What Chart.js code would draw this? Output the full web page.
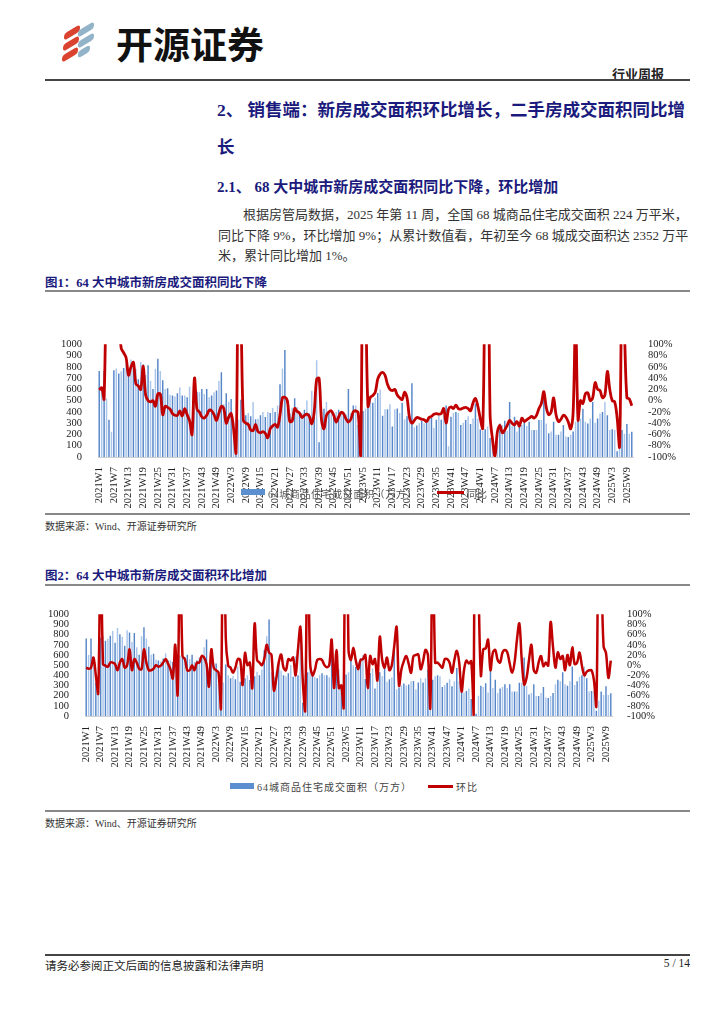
<!DOCTYPE html>
<html>
<head>
<meta charset="utf-8">
<script src="https://cdn.jsdelivr.net/npm/chart.js@4.4.1/dist/chart.umd.min.js"></script>
<style>
  body { margin: 0; background: #fff; }
  #page { position: relative; width: 724px; height: 1024px; overflow: hidden;
    font-family: "Liberation Serif", "Noto Sans CJK SC", serif; color: #222; }
  .abs { position: absolute; white-space: nowrap; }
  .rule { position: absolute; left: 45px; width: 645px; }
  .navy { color: #1b1b7d; font-weight: bold; }
  .stripe { position: absolute; width: 16px; height: 7px; transform: skewY(-30deg); border-radius: 3px; }
  canvas { position: absolute; }
</style>
</head>
<body>
<div id="page">
  <!-- logo -->
  <div class="stripe" style="left:64px;top:29px;background:#d9432f"></div>
  <div class="stripe" style="left:63px;top:40px;background:#d9432f"></div>
  <div class="stripe" style="left:62px;top:51px;background:#d9432f"></div>
  <div class="stripe" style="left:78px;top:26px;background:#93b3c9"></div>
  <div class="stripe" style="left:78px;top:37px;background:#93b3c9"></div>
  <div class="stripe" style="left:78px;top:48px;width:12px;background:#93b3c9"></div>
  <div class="abs" style="left:116px;top:16px;font:bold 37px 'Noto Sans CJK SC';color:#111">开源证券</div>
  <div class="abs" style="left:612px;top:64px;font:bold 13px 'Noto Sans CJK SC';color:#222">行业周报</div>
  <div class="rule" style="top:79px;height:2px;background:#444"></div>

  <div class="abs navy" style="left:217px;top:96px;font-size:17.5px">2、 销售端：新房成交面积环比增长，二手房成交面积同比增</div>
  <div class="abs navy" style="left:217px;top:133px;font-size:17.5px">长</div>
  <div class="abs navy" style="left:217px;top:175px;font-size:15px">2.1、 68 大中城市新房成交面积同比下降，环比增加</div>
  <div class="abs" style="left:243px;top:204px;font-size:13px;color:#333">根据房管局数据，2025 年第 11 周，全国 68 城商品住宅成交面积 224 万平米，</div>
  <div class="abs" style="left:218px;top:225px;font-size:13px;color:#333">同比下降 9%，环比增加 9%；从累计数值看，年初至今 68 城成交面积达 2352 万平</div>
  <div class="abs" style="left:218px;top:245px;font-size:13px;color:#333">米，累计同比增加 1%。</div>

  <div class="abs navy" style="left:45px;top:272px;font-size:12.5px">图1：64 大中城市新房成交面积同比下降</div>
  <div class="rule" style="top:290px;height:1.5px;background:#888"></div>
  <canvas id="c1" width="650" height="180" style="left:40px;top:330px"></canvas>
  <div class="abs" style="left:241px;top:489px;width:24px;height:6px;background:#5b8fd0"></div>
  <div class="abs" style="left:268px;top:486px;font-size:10px;color:#555;letter-spacing:0.6px">64城商品住宅成交面积（万方）</div>
  <div class="abs" style="left:437px;top:491px;width:27px;height:3px;background:#c00000"></div>
  <div class="abs" style="left:467px;top:486px;font-size:10px;color:#555">同比</div>
  <div class="rule" style="top:513px;height:1.5px;background:#888"></div>
  <div class="abs" style="left:45px;top:518px;font-size:10px;color:#333">数据来源：Wind、开源证券研究所</div>

  <div class="abs navy" style="left:45px;top:565px;font-size:12.5px">图2：64 大中城市新房成交面积环比增加</div>
  <div class="rule" style="top:584px;height:1.5px;background:#888"></div>
  <canvas id="c2" width="660" height="170" style="left:30px;top:600px"></canvas>
  <div class="abs" style="left:230px;top:783px;width:24px;height:6px;background:#5b8fd0"></div>
  <div class="abs" style="left:257px;top:779px;font-size:10px;color:#444;letter-spacing:1px">64城商品住宅成交面积（万方）</div>
  <div class="abs" style="left:428px;top:785px;width:25px;height:3px;background:#c00000"></div>
  <div class="abs" style="left:456px;top:779px;font-size:10px;color:#444;letter-spacing:1px">环比</div>
  <div class="rule" style="top:810px;height:1.5px;background:#888"></div>
  <div class="abs" style="left:45px;top:815px;font-size:10px;color:#333">数据来源：Wind、开源证券研究所</div>

  <div class="rule" style="top:954px;height:2px;background:#444"></div>
  <div class="abs" style="left:45px;top:957px;font-size:11.5px;color:#222">请务必参阅正文后面的信息披露和法律声明</div>
  <div class="abs" style="left:650px;top:957px;width:40px;text-align:right;font-size:11.5px;color:#222">5 / 14</div>
</div>

<script>
// weekly categories 2021W1 .. 2025W11
const years = [2021, 2022, 2023, 2024, 2025]
const weeksInYear = [52, 52, 52, 52, 11]
const weekLabels = []
years.forEach((y, k) => {
  for (let w = 1; w <= weeksInYear[k]; w++) weekLabels.push(y + 'W' + w)
})

// 64城商品住宅成交面积（万方）
const area = [
  762, 600, 762, 520, 330, 225, 770, 785, 740, 760,
  790, 835, 720, 865, 805, 780, 690, 843, 820, 727,
  815, 675, 603, 783, 872, 762, 680, 603, 611, 553,
  545, 536, 565, 617, 545, 545, 530, 623, 270, 594,
  580, 575, 603, 560, 603, 530, 545, 575, 590, 675,
  753, 470, 565, 490, 515, 313, 67, 330, 507, 400,
  371, 391, 362, 487, 336, 340, 370, 400, 355, 400,
  391, 435, 400, 458, 646, 785, 950, 429, 386, 438,
  522, 444, 400, 391, 420, 501, 386, 588, 400, 858,
  130, 400, 429, 487, 409, 386, 371, 400, 420, 400,
  400, 380, 603, 391, 458, 458, 284, 60, 408, 430,
  545, 500, 481, 525, 568, 600, 365, 423, 423, 467,
  270, 423, 430, 391, 481, 336, 362, 378, 655, 264,
  280, 300, 320, 300, 310, 342, 345, 260, 330, 370,
  330, 371, 458, 96, 357, 391, 400, 391, 284, 304,
  328, 362, 293, 342, 472, 342, 246, 232, 246, 270,
  168, 153, 23, 200, 298, 284, 322, 232, 487, 275,
  357, 226, 270, 284, 313, 275, 313, 240, 240, 240,
  328, 328, 574, 298, 211, 226, 313, 197, 197, 226,
  284, 183, 177, 197, 226, 313, 357, 342, 429, 313,
  298, 342, 487, 304, 342, 386, 400, 487, 371, 240,
  246, 240, 52, 150, 240, 206, 293, 206, 224
]

// 同比 (%)
const yoy = [
  19, 23, 3, 300, 700, 900, 600, 400, 150, 93,
  85, 76, 45, 60, 68, 30, 26, 20, 61, 10,
  0, -2, 0, -10, 12, 12, -25, -10, -12, -15,
  -23, -26, -26, -18, -27, -14, -25, -36, -60, 40,
  -15, -20, -29, -31, -26, -17, -18, -25, -35, -22,
  -10, -14, -40, -29, -23, -50, -93, 250, 150, -35,
  -40, -42, -52, -53, -42, -55, -57, -55, -58, -66,
  -50, -45, -42, -47, -25, 5, 6, 0, -37, -36,
  -14, -19, -22, -30, -26, -24, -28, -41, -20, 38,
  40, -34, -50, -26, -20, -18, -26, -38, -29, -21,
  -23, -32, -38, -33, -20, -18, -22, -98, 300, 200,
  -10, 6, 9, 15, 38, 47, 50, 45, 29, 20,
  18, 20, 10, 5, 2, 15, 5, -30, -40, -35,
  -30, -31, -33, -34, -37, -30, -28, -24, -23, -24,
  -23, -14, -40, -15, -11, -14, -8, -14, -15, -13,
  -12, -14, -18, -4, 4, -10, -32, -49, 250, 400,
  -25, -69, -98, -55, -44, -57, -52, -44, -35, -40,
  -43, -37, -45, -31, -37, -34, -31, -28, -31, -26,
  -14, -5, 16, -12, -25, -20, 5, -25, -37, -33,
  -26, -29, -38, -50, -20, 150, -34, 0, -5, 12,
  14, 0, 5, 32, 20, 18, 5, 10, 52, 20,
  0, -2, -30, -81, 200, 120, 5, 3, -9
]

// 环比 (%)
const wow = [
  -5, -7, -5, 15, -20, -55, 250, 2, -1, -3,
  5, 5, 2, -10, 5, 12, -5, 0, 31, -10,
  12, 5, -7, -8, 31, 5, -10, -10, -7, 0,
  -3, -1, 5, 12, 3, -8, -26, 40, -58, 250,
  18, 12, -10, -10, 0, -10, 5, 5, 18, 15,
  2, -42, 31, -5, -10, -15, -85, 400, 54, -1,
  -5, -15, -5, 12, 10, -39, 24, 0, 5, -45,
  82, 10, 5, 0, 12, 40, 25, 20, -50, -26,
  5, 21, -5, -10, 12, 9, 15, -20, 31, 75,
  -30, -90, 300, 10, -20, -10, 10, 12, 10, 0,
  -4, 0, 50, -45, 30, -45, -40, -83, 580, 30,
  10, 34, 10, -8, 10, 12, 20, -45, 18, 2,
  12, -30, 56, 10, -5, 15, -10, 0, 37, 75,
  -40, -8, 8, 18, 3, -15, 18, 20, 21, -8,
  8, 30, 20, -84, 270, 5, 5, 0, -5, 12,
  12, 5, -15, 10, 28, 5, -52, -10, 9, 3,
  8, -98, 900, 200, -20, 31, 33, 50, -10, 25,
  30, 10, 5, 25, 30, 25, 3, -15, 5, 50,
  82, 10, -38, -25, 10, 40, -10, -15, 5, 18,
  -2, 5, -1, 85, 35, -5, 25, 12, 18, -10,
  20, 0, 35, 2, 5, 25, -1, -20, -13, -10,
  -10, -30, -80, 300, 200, 37, 24, -25, 9
]

const tickFont = { family: "'Liberation Serif', serif", size: 10.5 }

function makeChart(id, lineData, lineLabel, geo) {
  const ctx = document.getElementById(id).getContext('2d')
  return new Chart(ctx, {
    data: {
      labels: weekLabels,
      datasets: [
        {
          type: 'line',
          label: lineLabel,
          data: lineData,
          yAxisID: 'y1',
          borderColor: '#c00000',
          borderWidth: geo.lineWidth,
          pointRadius: 0,
          tension: 0.35,
          order: 1,
        },
        {
          type: 'bar',
          label: '64城商品住宅成交面积（万方）',
          data: area,
          yAxisID: 'y',
          backgroundColor: c => (c.dataIndex % 2 ? '#a9c5ea' : '#5686c8'),
          barPercentage: 0.6,
          categoryPercentage: 1,
          order: 2,
        },
      ],
    },
    options: {
      responsive: false,
      animation: false,
      devicePixelRatio: 1,
      layout: { padding: { top: geo.top, left: 0, right: 0, bottom: 0 } },
      plugins: { legend: { display: false }, tooltip: { enabled: false } },
      scales: {
        x: {
          grid: { display: false },
          border: { color: '#d0d0d0' },
          afterFit: s => { s.height = geo.xHeight },
          ticks: {
            autoSkip: false,
            maxRotation: 90,
            minRotation: 90,
            padding: 2,
            color: '#222',
            font: tickFont,
            callback: function (v, i) { return i % 6 === 0 ? this.getLabelForValue(v) : '' },
          },
        },
        y: {
          position: 'left',
          min: 0,
          max: 1000,
          grid: { display: false },
          border: { display: false },
          afterFit: s => { s.width = geo.left },
          ticks: { stepSize: 100, autoSkip: false, padding: 8, color: '#222', font: tickFont, callback: v => String(v) },
        },
        y1: {
          position: 'right',
          min: -100,
          max: 100,
          grid: { display: false },
          border: { display: false },
          afterFit: s => { s.width = geo.right },
          ticks: { stepSize: 20, autoSkip: false, padding: 7, color: '#222', font: tickFont, callback: v => v + '%' },
        },
      },
    },
  })
}

makeChart('c1', yoy, '同比', { top: 12, xHeight: 53, left: 58, right: 57, lineWidth: 2.8 })
makeChart('c2', wow, '环比', { top: 11, xHeight: 54, left: 55, right: 78, lineWidth: 2.5 })
</script>
</body>
</html>
